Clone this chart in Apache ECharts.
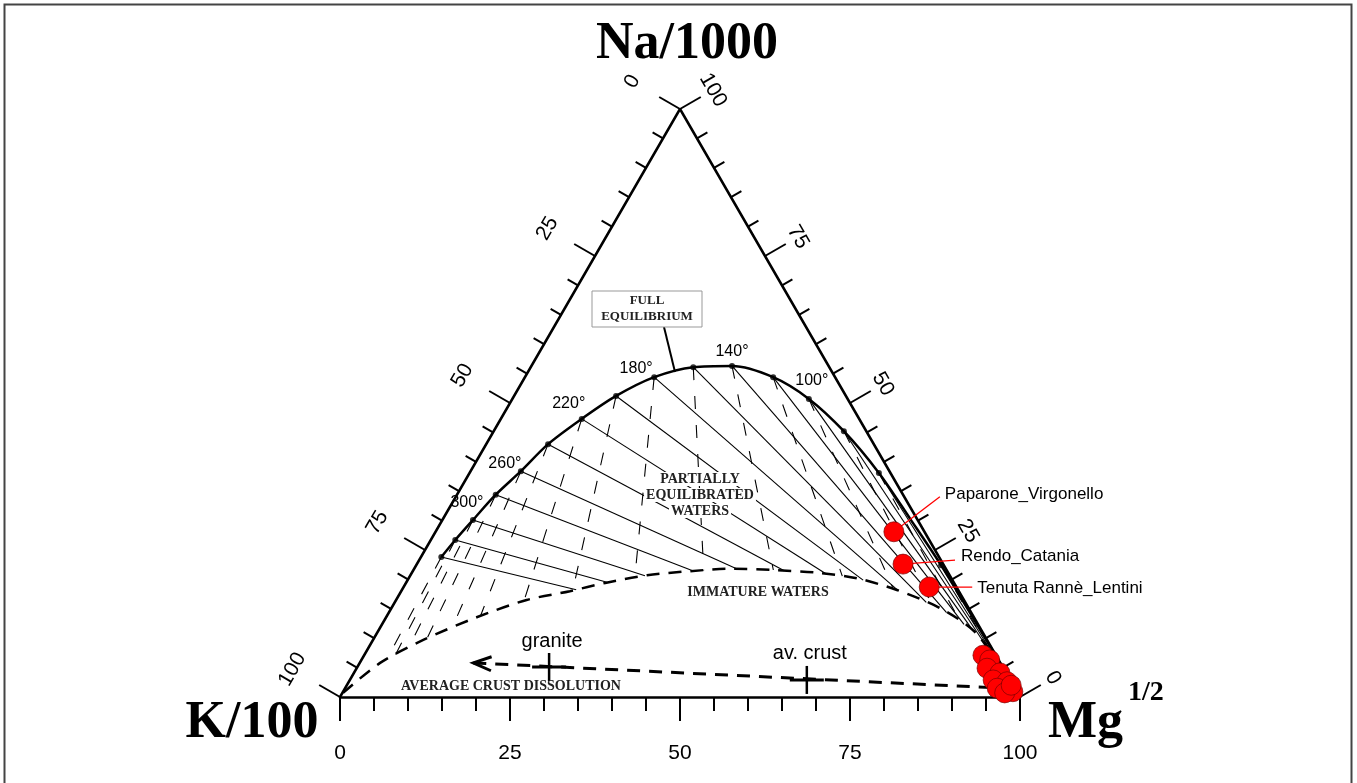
<!DOCTYPE html>
<html>
<head>
<meta charset="utf-8">
<title>Na-K-Mg Giggenbach diagram</title>
<script src="https://cdn.jsdelivr.net/npm/echarts@6.0.0/dist/echarts.min.js"></script>
<style>
  html, body { margin: 0; padding: 0; background: #fff; }
  #chart { width: 1357px; height: 783px; }
</style>
</head>
<body>
<div id="chart"></div>
<script>
// all ternary points are percentages [Na/1000, K/100, Mg^1/2]
const H = Math.sqrt(3) / 2;

const tickValues = [0, 5, 10, 15, 20, 25, 30, 35, 40, 45, 50, 55, 60, 65, 70, 75, 80, 85, 90, 95, 100];
const vertexNa = [100, 0, 0];
const vertexK = [0, 100, 0];
const vertexMg = [0, 0, 100];

// full equilibrium curve, the black dots
const eqDots = [
  [23.8, 73.2, 3.0], [26.7, 69.7, 3.6], [30.1, 65.4, 4.5], [34.4, 59.9, 5.7],
  [38.4, 54.2, 7.4], [43.0, 47.9, 9.1], [47.3, 40.8, 11.9], [51.2, 33.8, 15.0],
  [54.4, 26.6, 19.0], [56.1, 20.0, 23.9], [56.3, 14.2, 29.5], [54.4, 9.1, 36.5],
  [50.7, 5.7, 43.6], [45.2, 3.3, 51.5], [38.1, 1.7, 60.2], [22.4, 0.4, 77.2]
];
// rest of the curve down to the Mg corner (no dots)
const eqTail = [[12.0, 0.15, 87.85], [4.0, 0.05, 95.95], [0, 0, 100]];
const eqMid = [[30.3, 1.0, 68.7]];

// temperature labels and the dot they belong to
const tempLabels = ['300°', '260°', '220°', '180°', '140°', '100°'];
const tempDotIndex = [2, 4, 6, 8, 10, 12];
const tempLabelOffset = [[-6, -17], [-16, -8], [-13, -15], [-18, -9], [0, -14], [3, -18]];

// immature waters boundary
const immature = [
  [0.7, 99.2, 0.1], [5.8, 91.2, 3.0], [9.7, 82.9, 7.4], [13.6, 73.0, 13.4],
  [16.5, 64.3, 19.2], [18.0, 57.2, 24.8], [19.4, 51.3, 29.3], [20.7, 44.5, 34.8],
  [21.4, 37.8, 40.8], [21.8, 31.8, 46.4], [21.6, 25.5, 52.9], [21.1, 18.9, 60.0],
  [20.2, 13.9, 65.9], [18.2, 9.0, 72.8], [15.1, 4.2, 80.7], [11.1, 1.1, 87.8],
  [5.5, 0.4, 94.1], [0, 0, 100]
];

// samples
const sampleNames = ['Paparone_Virgonello', 'Rendo_Catania', 'Tenuta Rannè_Lentini'];
const samplePoints = [[28.1, 4.5, 67.4], [22.6, 5.9, 71.5], [18.7, 4.0, 77.3]];
const leaderEnd = [[46, -35], [52, -4], [43, 0]];
const labelOffset = [[51, -37], [58, -8], [48, 1]];
const clusterPoints = [
  [7.1, 1.9, 91.0], [6.3, 1.3, 92.4], [4.9, 2.4, 92.7], [4.1, 0.9, 95.0],
  [2.9, 2.5, 94.6], [2.6, 0.6, 96.8], [1.5, 2.6, 95.9], [1.5, 0.7, 97.8],
  [0.9, 0.6, 98.5], [0.7, 1.9, 97.4], [2.0, 0.3, 97.7]
];

// average crust dissolution
const crustLine = [[5.8, 77.5, 16.7], [1.5, 1.7, 96.8]];
const rockNames = ['granite', 'av. crust'];
const rockPoints = [[5.1, 66.7, 28.2], [2.9, 29.9, 67.2]];

function toXY(p) {
  const s = p[0] + p[1] + p[2];
  const na = p[0] / s * 100, mg = p[2] / s * 100;
  return [mg + na / 2, na * H];
}

// first crossing of a ray with a polyline
function hitPolyline(p, d, poly) {
  let best = null;
  for (let i = 0; i < poly.length - 1; i++) {
    const a = poly[i], b = poly[i + 1];
    const ex = b[0] - a[0], ey = b[1] - a[1];
    const den = d[0] * ey - d[1] * ex;
    if (Math.abs(den) < 1e-9) continue;
    const wx = a[0] - p[0], wy = a[1] - p[1];
    const t = (wx * ey - wy * ex) / den;
    const s = (wx * d[1] - wy * d[0]) / den;
    if (t > 1e-6 && s >= -1e-6 && s <= 1 + 1e-6 && (best === null || t < best)) best = t;
  }
  return best === null ? null : [p[0] + d[0] * best, p[1] + d[1] * best];
}

const immXY = immature.map(toXY);
const naXY = toXY(vertexNa), mgXY = toXY(vertexMg);

// Na/K isotherms (towards Mg corner) and K/Mg isotherms (away from Na corner)
const naKLines = [], kMgLines = [];
eqDots.forEach(function (p) {
  const a = toXY(p);
  const e1 = hitPolyline(a, [mgXY[0] - a[0], mgXY[1] - a[1]], immXY);
  if (e1) naKLines.push({ coords: [a, e1] });
  const e2 = hitPolyline(a, [a[0] - naXY[0], a[1] - naXY[1]], immXY);
  if (e2) kMgLines.push({ coords: [a, e2] });
});

const eqCurve = eqDots.slice(0, 15).concat(eqMid, [eqDots[15]], eqTail).map(toXY);

const textFont = '"Liberation Sans", Arial, sans-serif';
const tickFont = '"Liberation Sans Narrow", "Arial Narrow", "Liberation Sans", Arial, sans-serif';
const serifFont = '"Liberation Serif", "Times New Roman", serif';

function edgeTicks(edge) {
  return {
    type: 'custom',
    coordinateSystem: 'cartesian2d',
    silent: true,
    clip: false,
    z: 6,
    data: tickValues.map(function (v) {
      const t = edge === 'left' ? [100 - v, v, 0] : [v, 0, 100 - v];
      return toXY(t).concat([v]);
    }),
    renderItem: function (params, api) {
      const v = api.value(2);
      const c = api.coord([api.value(0), api.value(1)]);
      const dir = edge === 'left' ? [-H, -0.5] : [H, -0.5];
      const major = v % 25 === 0;
      const len = major ? 24 : 12;
      const children = [{
        type: 'line',
        shape: { x1: c[0], y1: c[1], x2: c[0] + dir[0] * len, y2: c[1] + dir[1] * len },
        style: { stroke: '#000', lineWidth: 2 }
      }];
      if (major) {
        const off = edge === 'left' ? 55 : 38;
        children.push({
          type: 'text',
          x: c[0] + dir[0] * off,
          y: c[1] + dir[1] * off,
          rotation: edge === 'left' ? Math.PI / 3 : -Math.PI / 3,
          style: { text: String(v), font: '21px ' + tickFont, fill: '#000', align: 'center', verticalAlign: 'middle' }
        });
      }
      return { type: 'group', children: children };
    }
  };
}

const chart = echarts.init(document.getElementById('chart'));

const option = {
  animation: false,
  backgroundColor: '#fff',
  grid: { left: 340, right: 337, top: 109, bottom: 86 },
  xAxis: {
    type: 'value', min: 0, max: 100, interval: 25,
    axisLine: { lineStyle: { color: '#000', width: 2.5 } },
    axisTick: { length: 24, lineStyle: { color: '#000', width: 2 } },
    minorTick: { show: true, splitNumber: 5, length: 14, lineStyle: { color: '#000', width: 2 } },
    axisLabel: { margin: 46, fontSize: 21, color: '#000', fontFamily: tickFont, showMinLabel: true, showMaxLabel: true },
    splitLine: { show: false }
  },
  yAxis: { type: 'value', min: 0, max: 100 * H, show: false },
  series: [
    {
      // left and right edges of the triangle
      type: 'line', symbol: 'none', silent: true, z: 5,
      data: [toXY(vertexK), toXY(vertexNa), toXY(vertexMg)],
      lineStyle: { color: '#000', width: 2.5 }
    },
    edgeTicks('left'),
    edgeTicks('right'),
    {
      type: 'lines', coordinateSystem: 'cartesian2d', silent: true, z: 2,
      data: naKLines,
      lineStyle: { color: '#000', width: 1.1, opacity: 1 }
    },
    {
      type: 'lines', coordinateSystem: 'cartesian2d', silent: true, z: 2,
      data: kMgLines,
      lineStyle: { color: '#000', width: 1.1, type: [13, 16], opacity: 1 }
    },
    {
      type: 'line', symbol: 'none', silent: true, smooth: 0.3, z: 3,
      data: immXY,
      lineStyle: { color: '#000', width: 2.5, type: [13, 9] }
    },
    {
      type: 'line', symbol: 'none', silent: true, smooth: 0.3, z: 4,
      data: eqCurve,
      lineStyle: { color: '#000', width: 2.5 }
    },
    {
      type: 'scatter', symbolSize: 6, silent: true, z: 5,
      data: eqDots.map(toXY),
      itemStyle: { color: '#000' }
    },
    {
      // temperature labels next to their dots
      type: 'custom', coordinateSystem: 'cartesian2d', silent: true, clip: false, z: 7,
      data: tempDotIndex.map(function (k) { return toXY(eqDots[k]); }),
      renderItem: function (params, api) {
        const i = params.dataIndex;
        const c = api.coord([api.value(0), api.value(1)]);
        return {
          type: 'text',
          x: c[0] + tempLabelOffset[i][0],
          y: c[1] + tempLabelOffset[i][1],
          style: { text: tempLabels[i], font: '16px ' + textFont, fill: '#000', align: 'center', verticalAlign: 'middle' }
        };
      }
    },
    {
      // average crust dissolution
      type: 'line', symbol: 'none', silent: true, z: 3,
      data: crustLine.map(toXY),
      lineStyle: { color: '#000', width: 3, type: [13, 9] }
    },
    {
      type: 'custom', coordinateSystem: 'cartesian2d', silent: true, clip: false, z: 4,
      data: [toXY(crustLine[0]).concat(toXY(crustLine[1]))],
      renderItem: function (params, api) {
        const tip = api.coord([api.value(0), api.value(1)]);
        const end = api.coord([api.value(2), api.value(3)]);
        const dx = end[0] - tip[0], dy = end[1] - tip[1];
        const l = Math.sqrt(dx * dx + dy * dy);
        const u = [dx / l, dy / l], n = [-u[1], u[0]];
        return {
          type: 'polyline',
          shape: { points: [
            [tip[0] + u[0] * 18 + n[0] * 7, tip[1] + u[1] * 18 + n[1] * 7],
            tip,
            [tip[0] + u[0] * 18 - n[0] * 7, tip[1] + u[1] * 18 - n[1] * 7]
          ] },
          style: { stroke: '#000', lineWidth: 3, fill: null }
        };
      }
    },
    {
      type: 'custom', coordinateSystem: 'cartesian2d', silent: true, clip: false, z: 4,
      data: rockPoints.map(toXY),
      renderItem: function (params, api) {
        const c = api.coord([api.value(0), api.value(1)]);
        return {
          type: 'group',
          children: [
            { type: 'line', shape: { x1: c[0] - 17, y1: c[1], x2: c[0] + 17, y2: c[1] }, style: { stroke: '#000', lineWidth: 3 } },
            { type: 'line', shape: { x1: c[0], y1: c[1] - 14, x2: c[0], y2: c[1] + 14 }, style: { stroke: '#000', lineWidth: 2.5 } },
            { type: 'text', x: c[0] + 3, y: c[1] - 26, style: { text: rockNames[params.dataIndex], font: '20px ' + textFont, fill: '#000', align: 'center', verticalAlign: 'middle' } }
          ]
        };
      }
    },
    {
      // sample labels with red leader lines
      type: 'custom', coordinateSystem: 'cartesian2d', silent: true, clip: false, z: 8,
      data: samplePoints.map(toXY),
      renderItem: function (params, api) {
        const i = params.dataIndex;
        const c = api.coord([api.value(0), api.value(1)]);
        const le = leaderEnd[i], lo = labelOffset[i];
        return {
          type: 'group',
          children: [
            { type: 'line', shape: { x1: c[0], y1: c[1], x2: c[0] + le[0], y2: c[1] + le[1] }, style: { stroke: '#ff0000', lineWidth: 1.3 } },
            { type: 'text', x: c[0] + lo[0], y: c[1] + lo[1], style: { text: sampleNames[i], font: '17px ' + textFont, fill: '#000', align: 'left', verticalAlign: 'middle' } }
          ]
        };
      }
    },
    {
      type: 'scatter', symbolSize: 20, silent: true, z: 9,
      data: samplePoints.concat(clusterPoints).map(toXY),
      itemStyle: { color: '#ff0000', borderColor: '#7a0000', borderWidth: 0.7, opacity: 1 }
    }
  ],
  graphic: [
    { type: 'rect', z: 100, silent: true, shape: { x: 4.5, y: 4.5, width: 1347, height: 800 }, style: { fill: null, stroke: '#444', lineWidth: 2 } },
    { type: 'text', z: 100, x: 687, y: 45, style: { text: 'Na/1000', font: 'bold 52px ' + serifFont, fill: '#000', align: 'center', verticalAlign: 'middle' } },
    { type: 'text', z: 100, x: 252, y: 724, style: { text: 'K/100', font: 'bold 52px ' + serifFont, fill: '#000', align: 'center', verticalAlign: 'middle' } },
    { type: 'text', z: 100, x: 1048, y: 724, style: { text: 'Mg', font: 'bold 52px ' + serifFont, fill: '#000', align: 'left', verticalAlign: 'middle' } },
    { type: 'text', z: 100, x: 1128, y: 693, style: { text: '1/2', font: 'bold 28px ' + serifFont, fill: '#000', align: 'left', verticalAlign: 'middle' } },
    { type: 'line', z: 100, silent: true, shape: { x1: 664, y1: 327, x2: 675, y2: 372 }, style: { stroke: '#000', lineWidth: 2 } },
    { type: 'rect', z: 100, silent: true, shape: { x: 592, y: 291, width: 110, height: 36 }, style: { fill: '#fff', stroke: '#999', lineWidth: 1 } },
    { type: 'text', z: 101, x: 647, y: 301, style: { text: 'FULL', font: 'bold 13px ' + serifFont, fill: '#222', align: 'center', verticalAlign: 'middle' } },
    { type: 'text', z: 101, x: 647, y: 317, style: { text: 'EQUILIBRIUM', font: 'bold 13px ' + serifFont, fill: '#222', align: 'center', verticalAlign: 'middle' } },
    { type: 'text', z: 100, x: 700, y: 479, style: { text: 'PARTIALLY', font: 'bold 14px ' + serifFont, fill: '#222', align: 'center', verticalAlign: 'middle', backgroundColor: '#fff', padding: [0, 2] } },
    { type: 'text', z: 100, x: 700, y: 495, style: { text: 'EQUILIBRATED', font: 'bold 14px ' + serifFont, fill: '#222', align: 'center', verticalAlign: 'middle', backgroundColor: '#fff', padding: [0, 2] } },
    { type: 'text', z: 100, x: 700, y: 511, style: { text: 'WATERS', font: 'bold 14px ' + serifFont, fill: '#222', align: 'center', verticalAlign: 'middle', backgroundColor: '#fff', padding: [0, 2] } },
    { type: 'text', z: 100, x: 758, y: 592, style: { text: 'IMMATURE WATERS', font: 'bold 14px ' + serifFont, fill: '#222', align: 'center', verticalAlign: 'middle' } },
    { type: 'text', z: 100, x: 511, y: 686, style: { text: 'AVERAGE CRUST DISSOLUTION', font: 'bold 14px ' + serifFont, fill: '#222', align: 'center', verticalAlign: 'middle' } }
  ]
};

option && chart.setOption(option);
</script>
</body>
</html>
